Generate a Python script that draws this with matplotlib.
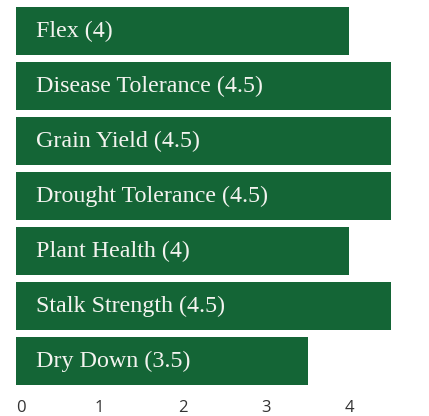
import matplotlib
matplotlib.use('Agg')
import matplotlib.pyplot as plt

# Data
traits = ['Flex', 'Disease Tolerance', 'Grain Yield', 'Drought Tolerance',
          'Plant Health', 'Stalk Strength', 'Dry Down']
scores = [4, 4.5, 4.5, 4.5, 4, 4.5, 3.5]
x_ticks = [0, 1, 2, 3, 4, 5]

GREEN = '#146536'

fig = plt.figure(figsize=(4.29, 4.16), dpi=100)
W, H = 429, 416
# axes: x=0 at px 16, x=5 at px ~432.5 (runs past the right edge, like the original)
ax = fig.add_axes([16 / W, 1 - 388.5 / H, 416.5 / W, 385 / H])

ypos = range(len(traits))
ax.barh(list(ypos), scores, height=0.873, color=GREEN, zorder=2)

for y, name, s in zip(ypos, traits, scores):
    label = f'{name} ({s:g})'
    ax.text(0.24, y, label, color='#f3f3ef', va='center', ha='left',
            fontsize=17.3, family='Liberation Serif', zorder=3)

ax.set_ylim(len(traits) - 0.5, -0.5)
ax.set_xlim(0, 5)
ax.set_xticks(x_ticks)
ax.set_xticklabels([str(t) for t in x_ticks], fontsize=12,
                   family='Open Sans', color='#333333')
ax.get_xticklabels()[0].set_horizontalalignment('left')
ax.tick_params(axis='x', length=0, pad=8)
ax.set_yticks([])
for sp in ax.spines.values():
    sp.set_visible(False)

fig.savefig('out.png', dpi=100)
